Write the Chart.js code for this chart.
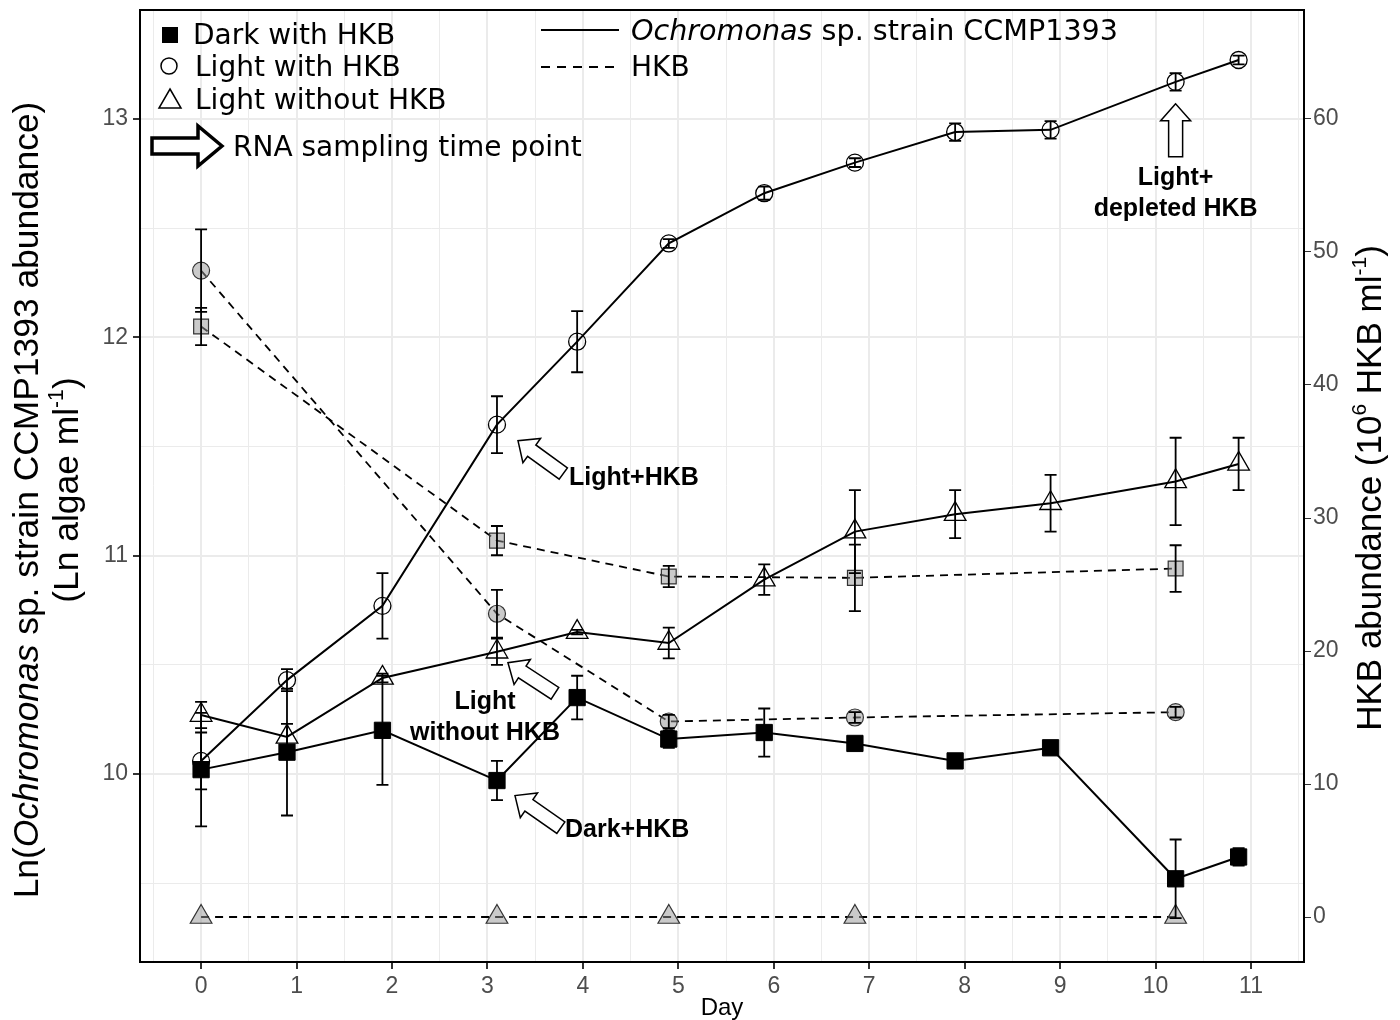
<!DOCTYPE html>
<html>
<head>
<meta charset="utf-8">
<script src="https://cdn.jsdelivr.net/npm/chart.js@4.4.1/dist/chart.umd.min.js"></script>
<style>
  html, body { margin: 0; padding: 0; background: #fff; }
  #wrap { width: 1400px; height: 1020px; position: relative; }
</style>
</head>
<body>
<div id="wrap"><canvas id="chart"></canvas></div>
<script>
// Sampling days
const days = [0, 0.9, 1.9, 3.1, 3.94, 4.9, 5.9, 6.85, 7.9, 8.9, 10.21, 10.87];
const daysHKB = [0, 3.1, 4.9, 6.85, 10.21];

// Ln(Ochromonas abundance) - left axis
const darkWithHKB = [10.02, 10.10, 10.20, 9.97, 10.35, 10.16, 10.19, 10.14, 10.06, 10.12, 9.52, 9.62];
const darkWithHKBErr = [0.26, 0.29, 0.25, 0.09, 0.10, 0.04, 0.11, 0.03, 0.02, 0.03, 0.18, 0.04];
const lightWithHKB = [10.06, 10.43, 10.77, 11.60, 11.98, 12.43, 12.66, 12.80, 12.94, 12.95, 13.17, 13.27];
const lightWithHKBErr = [0.13, 0.05, 0.15, 0.13, 0.14, 0.02, 0.03, 0.02, 0.04, 0.04, 0.04, 0.02];
const lightNoHKB = [10.27, 10.17, 10.44, 10.56, 10.65, 10.60, 10.89, 11.11, 11.19, 11.24, 11.34, 11.42];
const lightNoHKBErr = [0.06, 0.06, 0.02, 0.06, 0.01, 0.07, 0.07, 0.19, 0.11, 0.13, 0.20, 0.12];

// HKB abundance (10^6 ml-1) - right axis
const hkbDark = [44.4, 28.3, 25.6, 25.5, 26.2];
const hkbDarkErr = [1.4, 1.1, 0.8, 2.5, 1.75];
const hkbLight = [48.6, 22.8, 14.7, 15.0, 15.4];
const hkbLightErr = [3.1, 1.8, 0.5, 0.4, 0.4];
const hkbNoHKB = [0, 0, 0, 0, 0];

// tick labels
const xTicks = [0, 1, 2, 3, 4, 5, 6, 7, 8, 9, 10, 11];
const leftTicks = [10, 11, 12, 13];
const rightTicks = [0, 10, 20, 30, 40, 50, 60];

const toPoints = (xs, ys) => xs.map((x, i) => ({ x: x, y: ys[i] }));
const withMinor = (ticks) => {
  const all = [];
  ticks.forEach(v => { all.push(v - 0.5); all.push(v); });
  all.push(ticks[ticks.length - 1] + 0.5);
  return all;
};

// annotations, anchored on data points (offsets in px)
const notes = [
  { x: 3.1, y: 11.60, dx: 21, dy: 16, angle: -144, len: 56, lines: ["Light+HKB"], tx: 72, ty: 53, align: "left" },
  { x: 3.1, y: 10.56, dx: 11, dy: 11, angle: -147, len: 56, lines: ["Light", "without HKB"], tx: -12, ty: 50, align: "center" },
  { x: 3.1, y: 9.97, dx: 18, dy: 15, angle: -145, len: 56, lines: ["Dark+HKB"], tx: 68, ty: 50, align: "left" },
  { x: 10.21, y: 13.17, dx: 0, dy: 22, angle: -90, len: 53, lines: ["Light+", "depleted HKB"], tx: 0, ty: 96, align: "center" }
];

const grey = "rgba(150,150,150,0.5)";

function drawRich(ctx, parts, size, family, x, y, align) {
  let total = 0;
  const fonts = parts.map(p => {
    const s = p.sup ? size * 0.6 : size;
    const f = (p.italic ? "italic " : "") + s + "px " + family;
    ctx.font = f;
    const w = ctx.measureText(p.t).width;
    total += w;
    return { f: f, w: w };
  });
  let cx = align === "center" ? x - total / 2 : x;
  ctx.textAlign = "left";
  parts.forEach((p, i) => {
    ctx.font = fonts[i].f;
    ctx.fillText(p.t, cx, p.sup ? y - size * 0.42 : y);
    cx += fonts[i].w;
  });
}

function blockArrow(ctx, tipX, tipY, angle, len, shaftW, headW, headL, lw) {
  ctx.save();
  ctx.translate(tipX, tipY);
  ctx.rotate(angle * Math.PI / 180);
  ctx.beginPath();
  ctx.moveTo(0, 0);
  ctx.lineTo(-headL, -headW / 2);
  ctx.lineTo(-headL, -shaftW / 2);
  ctx.lineTo(-len, -shaftW / 2);
  ctx.lineTo(-len, shaftW / 2);
  ctx.lineTo(-headL, shaftW / 2);
  ctx.lineTo(-headL, headW / 2);
  ctx.closePath();
  ctx.fillStyle = "white";
  ctx.fill();
  ctx.lineJoin = "miter";
  ctx.lineWidth = lw;
  ctx.strokeStyle = "black";
  ctx.stroke();
  ctx.restore();
}

const errorBars = {
  id: "errorBars",
  afterDatasetsDraw(chart) {
    const ctx = chart.ctx;
    const xs = chart.scales.x;
    chart.data.datasets.forEach(ds => {
      if (!ds.err) return;
      const ys = chart.scales[ds.yAxisID];
      ctx.save();
      ctx.strokeStyle = "black";
      ctx.lineWidth = 1.8;
      ds.data.forEach((p, j) => {
        const e = ds.err[j];
        if (!e) return;
        const x = xs.getPixelForValue(p.x);
        const y1 = ys.getPixelForValue(p.y - e);
        const y2 = ys.getPixelForValue(p.y + e);
        ctx.beginPath();
        ctx.moveTo(x, y1); ctx.lineTo(x, y2);
        ctx.moveTo(x - 6, y1); ctx.lineTo(x + 6, y1);
        ctx.moveTo(x - 6, y2); ctx.lineTo(x + 6, y2);
        ctx.stroke();
      });
      ctx.restore();
    });
  }
};

const extras = {
  id: "extras",
  afterDraw(chart) {
    const ctx = chart.ctx;
    const a = chart.chartArea;
    const xs = chart.scales.x, yl = chart.scales.y;
    ctx.save();

    // panel border
    ctx.strokeStyle = "black";
    ctx.lineWidth = 2;
    ctx.strokeRect(a.left, a.top, a.right - a.left, a.bottom - a.top);

    // arrows + bold labels
    notes.forEach(n => {
      const px = xs.getPixelForValue(n.x), py = yl.getPixelForValue(n.y);
      blockArrow(ctx, px + n.dx, py + n.dy, n.angle, n.len, 14, 30, 17, 1.5);
      ctx.fillStyle = "black";
      ctx.font = "bold 25px 'Liberation Sans', Arial, sans-serif";
      ctx.textAlign = n.align;
      ctx.textBaseline = "middle";
      n.lines.forEach((t, k) => ctx.fillText(t, px + n.tx, py + n.ty + k * 31));
    });

    // legend: symbols
    const lf = "'DejaVu Sans', sans-serif";
    ctx.fillStyle = "black";
    ctx.fillRect(162, 27, 16, 16);
    ctx.lineWidth = 1.5;
    ctx.beginPath(); ctx.arc(169, 66, 8, 0, Math.PI * 2); ctx.stroke();
    ctx.beginPath();
    ctx.moveTo(170, 89); ctx.lineTo(181, 108); ctx.lineTo(159, 108); ctx.closePath(); ctx.stroke();
    ctx.textBaseline = "alphabetic";
    ctx.textAlign = "left";
    ctx.font = "28px " + lf;
    ctx.fillText("Dark with HKB", 193, 44);
    ctx.fillText("Light with HKB", 195, 76);
    ctx.fillText("Light without HKB", 195, 109);

    // legend: line types
    ctx.lineWidth = 2;
    ctx.beginPath(); ctx.moveTo(541, 30); ctx.lineTo(619, 30); ctx.stroke();
    ctx.setLineDash([9, 7]);
    ctx.beginPath(); ctx.moveTo(541, 67); ctx.lineTo(619, 67); ctx.stroke();
    ctx.setLineDash([]);
    drawRich(ctx, [{ t: "Ochromonas", italic: true }, { t: " sp. strain CCMP1393" }], 28.6, lf, 631, 40, "left");
    ctx.font = "28px " + lf;
    ctx.fillText("HKB", 631, 76);

    // RNA sampling arrow
    blockArrow(ctx, 222, 146, 0, 70, 16, 40, 24, 3.5);
    ctx.fillStyle = "black";
    ctx.font = "28px " + lf;
    ctx.fillText("RNA sampling time point", 233, 156);

    // axis titles
    const tf = "'Liberation Sans', Arial, sans-serif";
    ctx.save();
    ctx.translate(38, 500);
    ctx.rotate(-Math.PI / 2);
    drawRich(ctx, [{ t: "Ln(" }, { t: "Ochromonas", italic: true }, { t: " sp. strain CCMP1393 abundance)" }], 35.4, tf, 0, 0, "center");
    ctx.restore();
    ctx.save();
    ctx.translate(78, 490);
    ctx.rotate(-Math.PI / 2);
    drawRich(ctx, [{ t: "(Ln algae ml" }, { t: "-1", sup: true }, { t: ")" }], 35.4, tf, 0, 0, "center");
    ctx.restore();
    ctx.save();
    ctx.translate(1381, 488);
    ctx.rotate(-Math.PI / 2);
    drawRich(ctx, [{ t: "HKB abundance (10" }, { t: "6", sup: true }, { t: " HKB ml" }, { t: "-1", sup: true }, { t: ")" }], 35, tf, 0, 0, "center");
    ctx.restore();

    ctx.font = "24px " + tf;
    ctx.textAlign = "center";
    ctx.textBaseline = "middle";
    ctx.fillText("Day", (a.left + a.right) / 2, 1008);
    ctx.restore();
  }
};

const isMajor = (v, list) => list.includes(v);
const tickFont = { family: "'Liberation Sans', Arial, sans-serif", size: 23 };
const noEdgePad = s => { s.paddingTop = 0; s.paddingBottom = 0; s.paddingLeft = 0; s.paddingRight = 0; };

new Chart(document.getElementById("chart"), {
  type: "scatter",
  data: {
    datasets: [
      {
        label: "Dark with HKB", data: toPoints(days, darkWithHKB), err: darkWithHKBErr, yAxisID: "y",
        showLine: true, borderColor: "black", borderWidth: 2,
        pointStyle: "rect", pointRadius: 11.5, pointBackgroundColor: "black", pointBorderColor: "black", pointBorderWidth: 1
      },
      {
        label: "Light with HKB", data: toPoints(days, lightWithHKB), err: lightWithHKBErr, yAxisID: "y",
        showLine: true, borderColor: "black", borderWidth: 2,
        pointStyle: "circle", pointRadius: 8.5, pointBackgroundColor: "rgba(0,0,0,0)", pointBorderColor: "black", pointBorderWidth: 1.3
      },
      {
        label: "Light without HKB", data: toPoints(days, lightNoHKB), err: lightNoHKBErr, yAxisID: "y",
        showLine: true, borderColor: "black", borderWidth: 2,
        pointStyle: "triangle", pointRadius: 12.5, pointBackgroundColor: "rgba(0,0,0,0)", pointBorderColor: "black", pointBorderWidth: 1.3
      },
      {
        label: "HKB dark", data: toPoints(daysHKB, hkbDark), err: hkbDarkErr, yAxisID: "y2",
        showLine: true, borderColor: "black", borderWidth: 1.8, borderDash: [8, 6],
        pointStyle: "rect", pointRadius: 10.5, pointBackgroundColor: grey, pointBorderColor: "#333", pointBorderWidth: 1.2
      },
      {
        label: "HKB light", data: toPoints(daysHKB, hkbLight), err: hkbLightErr, yAxisID: "y2",
        showLine: true, borderColor: "black", borderWidth: 1.8, borderDash: [8, 6],
        pointStyle: "circle", pointRadius: 8.5, pointBackgroundColor: grey, pointBorderColor: "#333", pointBorderWidth: 1.2
      },
      {
        label: "HKB no HKB", data: toPoints(daysHKB, hkbNoHKB), yAxisID: "y2",
        showLine: true, borderColor: "black", borderWidth: 1.8, borderDash: [8, 6],
        pointStyle: "triangle", pointRadius: 12.5, pointBackgroundColor: grey, pointBorderColor: "#333", pointBorderWidth: 1.2
      }
    ]
  },
  options: {
    responsive: true,
    maintainAspectRatio: false,
    animation: false,
    layout: { autoPadding: false, padding: { top: 10, left: 0, right: 0, bottom: 0 } },
    plugins: { legend: { display: false }, tooltip: { enabled: false } },
    scales: {
      x: {
        type: "linear", position: "bottom", min: -0.64, max: 11.555,
        afterBuildTicks: s => { s.ticks = withMinor(xTicks).map(v => ({ value: v })); },
        afterFit: s => { s.height = 58; noEdgePad(s); },
        ticks: {
          autoSkip: false, maxRotation: 0, padding: 4, font: tickFont, color: "#4d4d4d",
          callback: v => (isMajor(v, xTicks) ? String(v) : "")
        },
        grid: {
          color: "#ebebeb",
          lineWidth: c => (isMajor(c.tick.value, xTicks) ? 2 : 1),
          tickLength: 7,
          tickColor: c => (isMajor(c.tick.value, xTicks) ? "#333" : "rgba(0,0,0,0)")
        },
        border: { color: "black", width: 2 }
      },
      y: {
        type: "linear", position: "left", min: 9.139, max: 13.499,
        afterBuildTicks: s => { s.ticks = withMinor(leftTicks).filter(v => v <= 13.499).map(v => ({ value: v })); },
        afterFit: s => { s.width = 140; noEdgePad(s); },
        ticks: {
          autoSkip: false, padding: 5, font: tickFont, color: "#4d4d4d",
          callback: v => (isMajor(v, leftTicks) ? String(v) : "")
        },
        grid: {
          color: "#ebebeb",
          lineWidth: c => (isMajor(c.tick.value, leftTicks) ? 2 : 1),
          tickLength: 7,
          tickColor: c => (isMajor(c.tick.value, leftTicks) ? "#333" : "rgba(0,0,0,0)")
        },
        border: { color: "black", width: 2 }
      },
      y2: {
        type: "linear", position: "right", min: -3.383, max: 68.195,
        afterBuildTicks: s => { s.ticks = rightTicks.map(v => ({ value: v })); },
        afterFit: s => { s.width = 96; noEdgePad(s); },
        ticks: { autoSkip: false, padding: 2, font: tickFont, color: "#4d4d4d" },
        grid: { drawOnChartArea: false, tickLength: 7, tickColor: "#333" },
        border: { color: "black", width: 2 }
      }
    }
  },
  plugins: [errorBars, extras]
});
</script>
</body>
</html>
